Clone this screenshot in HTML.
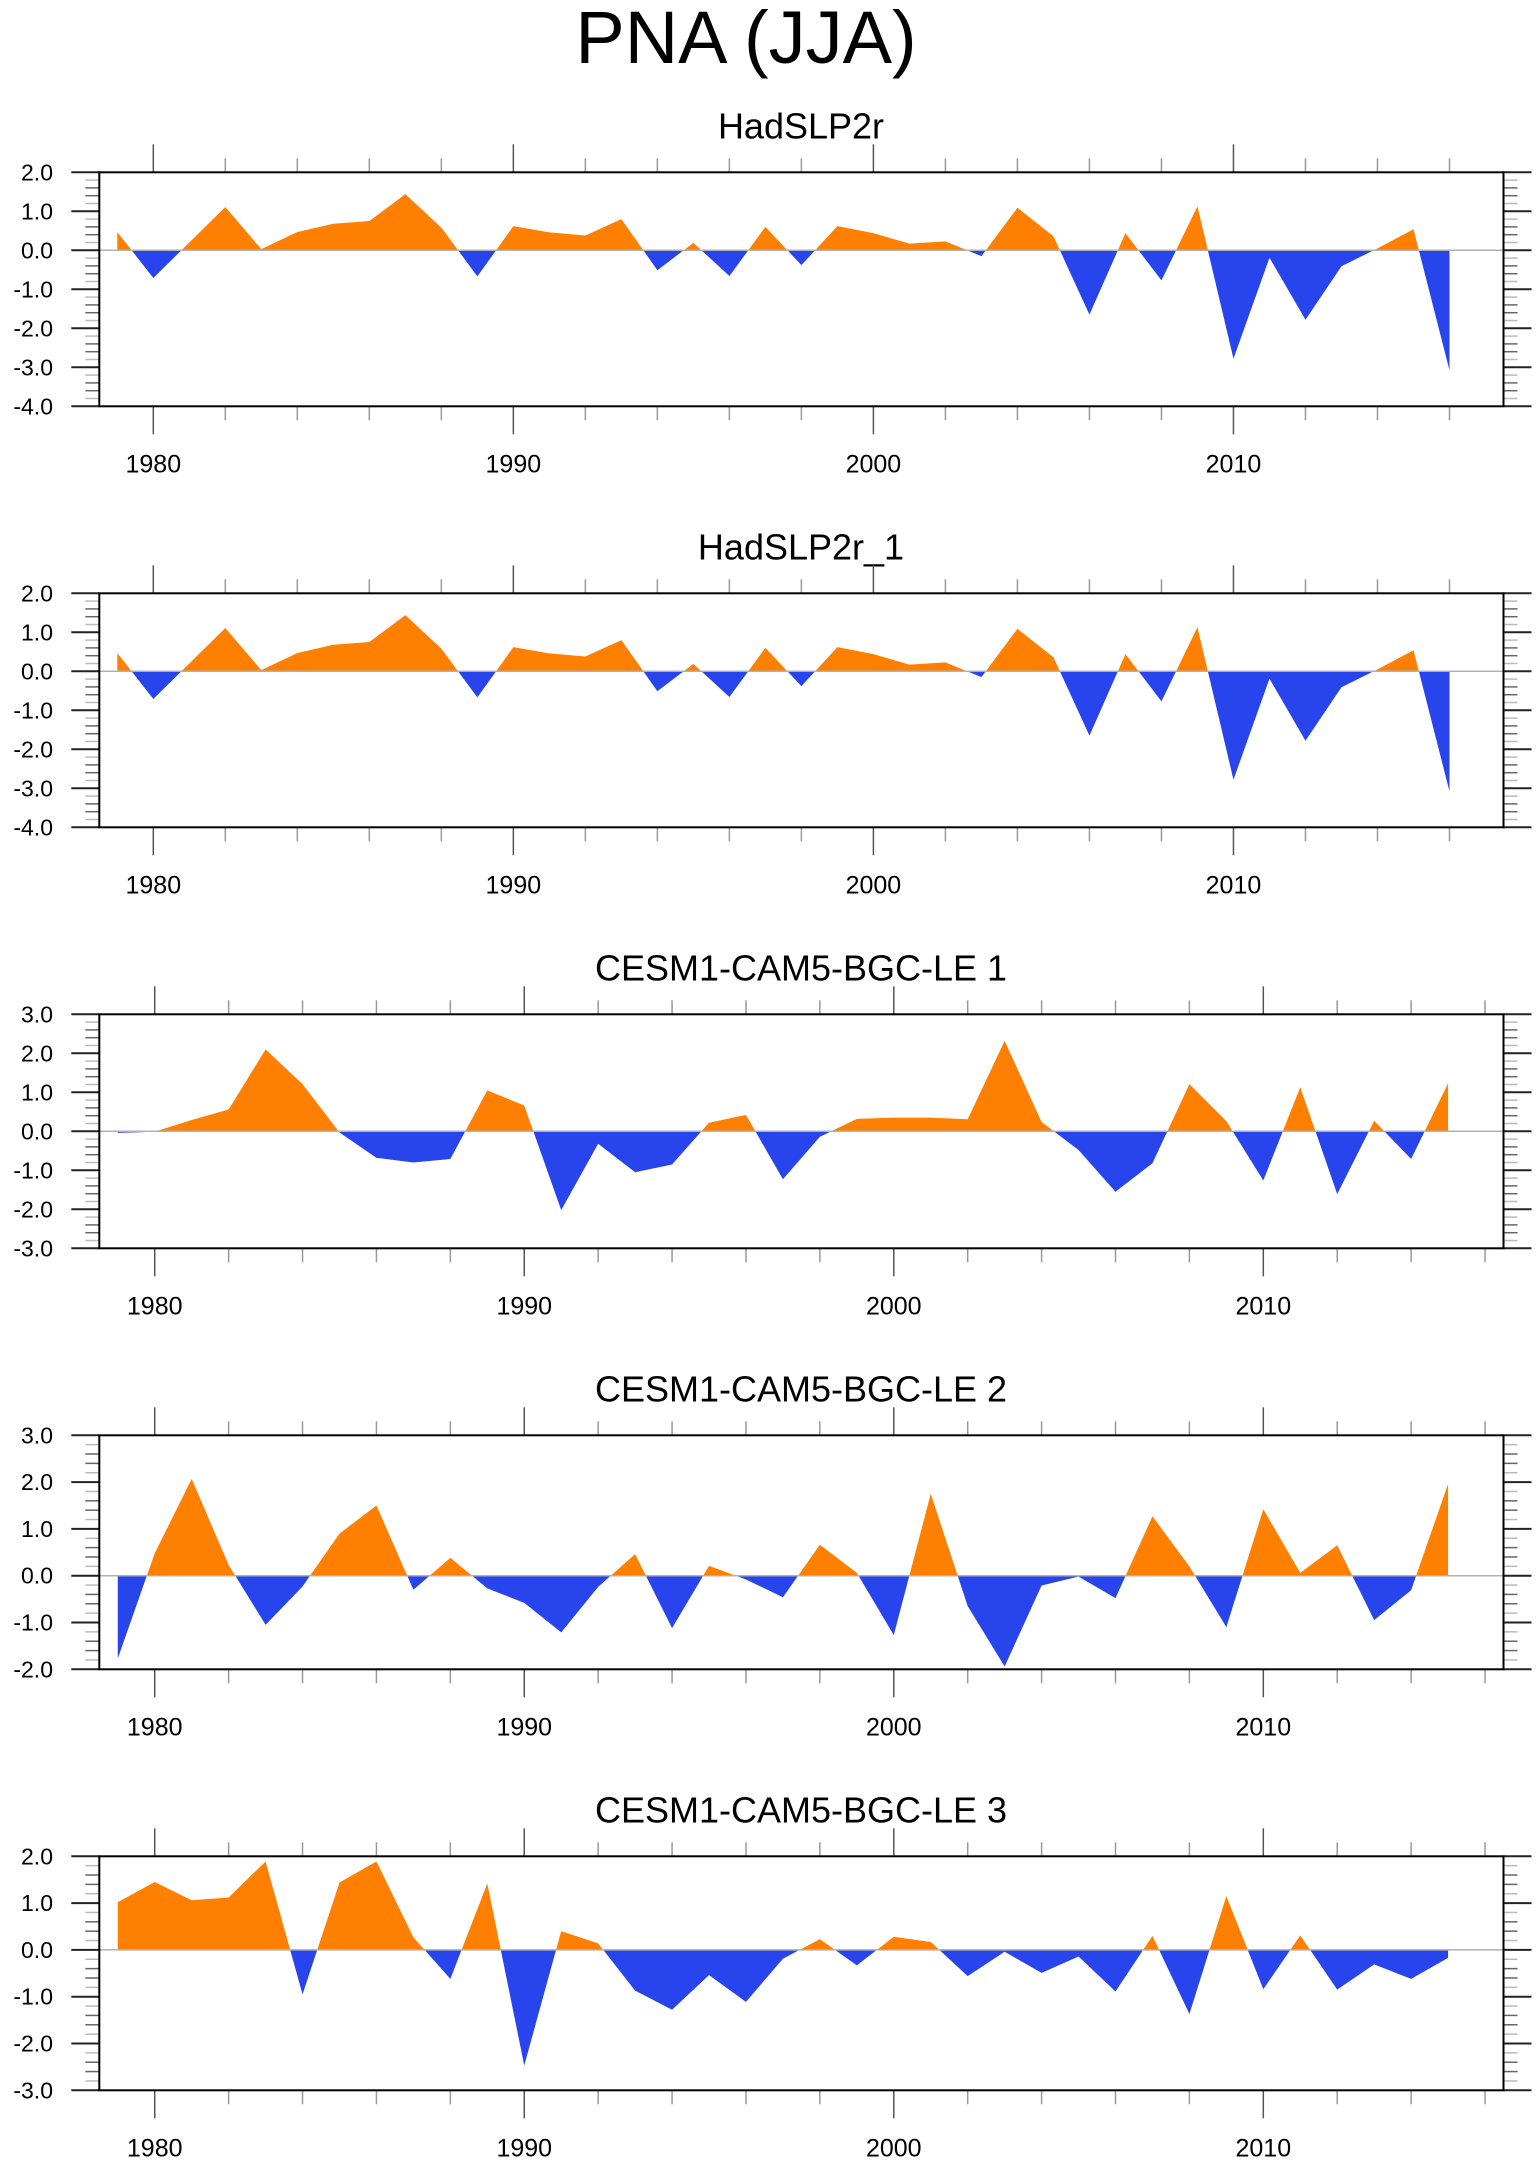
<!DOCTYPE html>
<html>
<head>
<meta charset="utf-8">
<style>
  html, body { margin:0; padding:0; background:#fff; }
  body { width:1540px; height:2166px; overflow:hidden; }
  svg text { font-family:"Liberation Sans", sans-serif; fill:#000; }
</style>
</head>
<body>
<svg id="chart" width="1540" height="2166" viewBox="0 0 1540 2166" xmlns="http://www.w3.org/2000/svg">
  <text x="746" y="63" font-size="74" text-anchor="middle">PNA (JJA)</text>
</svg>
<script>
// ---- data ----
const yearsHad = [1979,1980,1981,1982,1983,1984,1985,1986,1987,1988,1989,1990,1991,1992,1993,1994,1995,1996,1997,1998,1999,2000,2001,2002,2003,2004,2005,2006,2007,2008,2009,2010,2011,2012,2013,2014,2015,2016];
const yearsModel = [1979,1980,1981,1982,1983,1984,1985,1986,1987,1988,1989,1990,1991,1992,1993,1994,1995,1996,1997,1998,1999,2000,2001,2002,2003,2004,2005,2006,2007,2008,2009,2010,2011,2012,2013,2014,2015];
const hadValues = [0.47,-0.71,0.2,1.11,0.03,0.47,0.68,0.75,1.44,0.58,-0.67,0.62,0.46,0.38,0.80,-0.51,0.19,-0.66,0.60,-0.38,0.62,0.44,0.17,0.23,-0.15,1.09,0.36,-1.65,0.44,-0.77,1.13,-2.78,-0.19,-1.78,-0.41,0.05,0.54,-3.08];
const cesm1Values = [-0.04,-0.01,0.29,0.56,2.10,1.21,-0.03,-0.68,-0.80,-0.71,1.05,0.66,-2.02,-0.32,-1.05,-0.85,0.22,0.42,-1.23,-0.14,0.32,0.35,0.35,0.31,2.32,0.24,-0.48,-1.55,-0.82,1.21,0.26,-1.26,1.13,-1.61,0.27,-0.71,1.23];
const cesm2Values = [-1.77,0.48,2.07,0.23,-1.05,-0.23,0.90,1.50,-0.30,0.38,-0.27,-0.58,-1.21,-0.24,0.46,-1.12,0.21,-0.08,-0.46,0.66,0.06,-1.27,1.75,-0.65,-1.94,-0.21,-0.02,-0.48,1.27,0.20,-1.10,1.42,0.06,0.65,-0.95,-0.31,1.96];
const cesm3Values = [1.02,1.45,1.06,1.12,1.89,-0.95,1.44,1.89,0.27,-0.62,1.42,-2.47,0.40,0.14,-0.87,-1.28,-0.54,-1.11,-0.19,0.23,-0.33,0.28,0.17,-0.56,-0.04,-0.49,-0.14,-0.89,0.30,-1.37,1.15,-0.84,0.31,-0.85,-0.31,-0.62,-0.17];
const panelTitles = ["HadSLP2r","HadSLP2r_1","CESM1-CAM5-BGC-LE 1","CESM1-CAM5-BGC-LE 2","CESM1-CAM5-BGC-LE 3"];
const yRangesMin = [-4,-4,-3,-2,-3];
const yRangesMax = [2,2,3,3,2];
const xTickYears = [1980,1990,2000,2010];

const panels = [
  {years: yearsHad, vals: hadValues, xmin:1978.5, xmax:2017.5},
  {years: yearsHad, vals: hadValues, xmin:1978.5, xmax:2017.5},
  {years: yearsModel, vals: cesm1Values, xmin:1978.5, xmax:2016.5},
  {years: yearsModel, vals: cesm2Values, xmin:1978.5, xmax:2016.5},
  {years: yearsModel, vals: cesm3Values, xmin:1978.5, xmax:2016.5}
];

const NS = "http://www.w3.org/2000/svg";
const svg = document.getElementById('chart');
const L = 99.3, R = 1503.5, H = 234;
function mk(tag, attrs, parent) {
  const e = document.createElementNS(NS, tag);
  for (const k in attrs) e.setAttribute(k, attrs[k]);
  (parent || svg).appendChild(e);
  return e;
}

panels.forEach((p, i) => {
  const top = 172.3 + 421 * i, bot = top + H;
  const ymin = yRangesMin[i], ymax = yRangesMax[i];
  const xs = yr => L + (yr - p.xmin) / (p.xmax - p.xmin) * (R - L);
  const ys = v => top + (ymax - v) / (ymax - ymin) * H;
  const g = mk('g', {});
  
  

  const t = mk('text', {x: 801, y: top - 34, 'font-size': 36, 'text-anchor': 'middle'}, g);
  
  
  t.textContent = panelTitles[i];

  // fill areas
  const y0 = ys(0);
  let d = 'M' + xs(p.years[0]) + ',' + y0;
  p.years.forEach((yr, k) => { d += ' L' + xs(yr) + ',' + ys(p.vals[k]); });
  d += ' L' + xs(p.years[p.years.length - 1]) + ',' + y0 + ' Z';
  const cidA = 'clipA' + i, cidB = 'clipB' + i;
  const defs = mk('defs', {}, g);
  const cA = mk('clipPath', {id: cidA}, defs);
  mk('rect', {x: L, y: top, width: R - L, height: y0 - top}, cA);
  const cB = mk('clipPath', {id: cidB}, defs);
  mk('rect', {x: L, y: y0, width: R - L, height: bot - y0}, cB);
  const pa = mk('path', {d: d, fill: '#ff8000', 'clip-path': 'url(#' + cidA + ')'}, g);
  
  
  const pb = mk('path', {d: d, fill: '#2844ec', 'clip-path': 'url(#' + cidB + ')'}, g);
  
  

  const zl = mk('line', {x1: L, x2: R, y1: y0, y2: y0, stroke: '#b0b0b0', 'stroke-width': 1.5}, g);
  
  

  // y ticks
  const nMinor = Math.round((ymax - ymin) * 5);
  for (let k = 0; k <= nMinor; k++) {
    const v = ymin + k * 0.2;
    const yy = ys(v);
    const major = (k % 5 === 0);
    const len = major ? 28 : 14;
    const col = major ? '#222' : (k % 5 === 1 || k % 5 === 4 ? '#bbb' : '#666');
    mk('line', {x1: L - len, x2: L, y1: yy, y2: yy, stroke: col, 'stroke-width': major ? 2 : 1.5}, g);
    mk('line', {x1: R, x2: R + len, y1: yy, y2: yy, stroke: col, 'stroke-width': major ? 2 : 1.5}, g);
    if (major) {
      const lb = mk('text', {x: 53, y: yy + 8, 'font-size': 23, 'text-anchor': 'end'}, g);
      
      
      lb.textContent = v.toFixed(1);
    }
  }
  // x ticks
  for (let yr = 1980; yr <= Math.floor(p.xmax); yr += 2) {
    const xx = xs(yr);
    const major = (yr % 10 === 0);
    const len = major ? 28 : 14;
    const col = major ? '#555' : '#999';
    mk('line', {x1: xx, x2: xx, y1: top - len, y2: top, stroke: col, 'stroke-width': 1.5}, g);
    mk('line', {x1: xx, x2: xx, y1: bot, y2: bot + len, stroke: col, 'stroke-width': 1.5}, g);
  }
  xTickYears.forEach(yr => {
    const lb = mk('text', {x: xs(yr), y: bot + 66, 'font-size': 25, 'text-anchor': 'middle'}, g);
    
    
    lb.textContent = String(yr);
  });

  const fr = mk('rect', {x: L, y: top, width: R - L, height: H, fill: 'none', stroke: '#000', 'stroke-width': 2}, g);
  
  
});
</script>
</body>
</html>
